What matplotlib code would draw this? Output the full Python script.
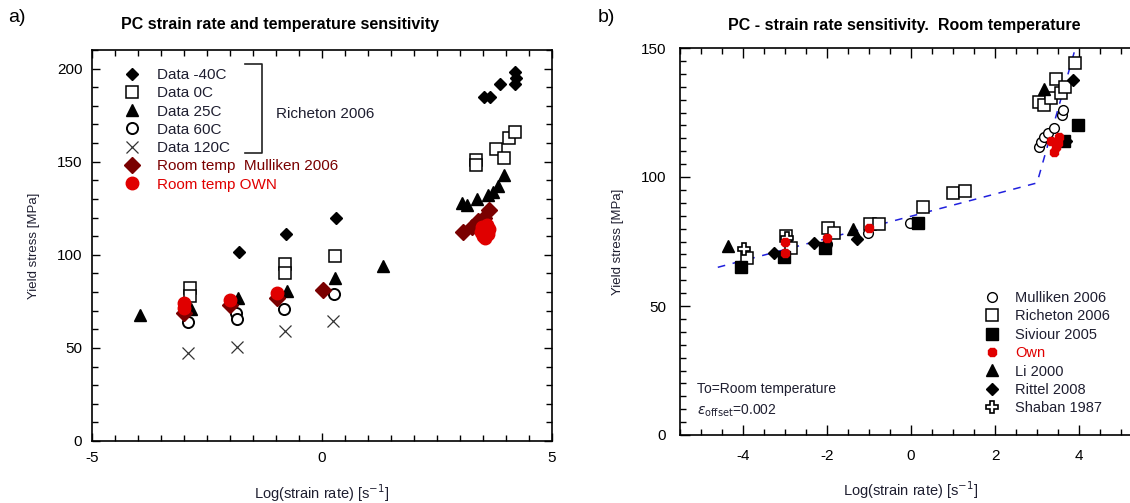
import matplotlib
matplotlib.use("Agg")
import matplotlib.pyplot as plt
from matplotlib.lines import Line2D
from matplotlib.ticker import MultipleLocator

plt.rcParams['font.family'] = ['Liberation Sans', 'DejaVu Sans']
plt.rcParams['axes.unicode_minus'] = False

# ---- panel a) Richeton 2006 + room temp data ----
m40_x = [-1.8, -0.78, 0.3, 3.53, 3.65, 3.88, 4.2, 4.22, 4.2]
m40_y = [101.6, 111, 120, 185, 185, 192, 198, 195, 191.5]
c0_x = [-2.87, -2.87, -0.8, -0.8, 0.28, 3.35, 3.35, 3.79, 3.96, 4.07, 4.19]
c0_y = [82, 78, 95, 90, 99.5, 151, 148.5, 157, 152, 163, 166]
c25_x = [-3.96, -2.85, -1.83, -0.76, 0.28, 1.33, 3.04, 3.15, 3.37, 3.6, 3.72, 3.82, 3.96]
c25_y = [67.6, 71, 77, 80.5, 87.5, 94, 128, 127, 130, 132, 134, 137, 143]
c60_x = [-2.91, -1.87, -1.85, -0.83, 0.26]
c60_y = [64, 69, 65.5, 71, 79]
c120_x = [-2.91, -1.85, -0.8, 0.24]
c120_y = [47.5, 50.5, 59, 64.4]
mull_x = [-3.0, -2.0, -0.98, 0.02, 3.07, 3.25, 3.4, 3.52, 3.63]
mull_y = [69, 73, 77, 81, 112, 115, 118, 120, 124]
own_x = [-3.0, -3.0, -2.0, -0.98, 3.45, 3.5, 3.55, 3.6, 3.62, 3.58, 3.48]
own_y = [74, 71.5, 75.7, 79.5, 112, 110, 109, 111, 114, 116, 115]

# ---- panel b) room temperature ----
rm_x = [-3.0, -2.0, -1.03, -0.02, 3.05, 3.1, 3.17, 3.26, 3.41, 3.59, 3.61]
rm_y = [70, 74, 78.3, 82.3, 111.6, 113.6, 115.6, 117, 119, 124, 126]
rr_x = [-3.9, -2.98, -2.86, -1.98, -1.83, -0.98, -0.76, 0.29, 0.99, 1.29,
        3.05, 3.16, 3.33, 3.45, 3.57, 3.67, 3.9]
rr_y = [68.6, 77, 72.5, 80.2, 78.3, 81.8, 81.8, 88.3, 93.7, 94.7,
        129, 128, 130.6, 138, 132.5, 135, 144]
sv_x = [-4.05, -3.02, -2.05, 0.16, 3.65, 3.97]
sv_y = [65, 69, 72.5, 82.3, 114, 120]
ow_x = [-3.0, -3.0, -2.0, -1.0, 3.33, 3.45, 3.52, 3.4, 3.5]
ow_y = [70.5, 75, 76.5, 80.2, 114, 111.6, 115.5, 109.7, 113]
li_x = [-4.36, -1.39, 3.17]
li_y = [73.3, 79.7, 134]
rt_x = [-3.26, -2.31, -1.29, 3.69, 3.86]
rt_y = [70.6, 74.5, 76, 114, 137.6]
sh_x = [-3.97, -2.95]
sh_y = [72, 76.4]
fit_x = [-4.6, 3.0, 3.95]
fit_y = [65.0, 97.7, 152]

txtc = '#1e1e30'
dred = '#7a0000'
red = '#e00000'

fig = plt.figure(figsize=(11.3, 5.03), dpi=100)

# ================= a) =================
ax1 = fig.add_axes([92/1130, 1-441/503, 460/1130, 391/503])
ax1.plot(c120_x, c120_y, 'x', color='#333333', ms=9, mew=0.9, ls='none')
ax1.plot(c60_x, c60_y, 'o', mfc='white', mec='black', ms=8, mew=1.4, ls='none')
ax1.plot(c0_x, c0_y, 's', mfc='white', mec='black', ms=9, mew=1.1, ls='none')
ax1.plot(c25_x, c25_y, '^', color='black', ms=9, ls='none')
ax1.plot(m40_x, m40_y, 'D', color='black', ms=6.5, ls='none')
ax1.plot(mull_x, mull_y, 'D', color=dred, ms=8, ls='none')
ax1.plot(own_x, own_y, 'o', color=red, ms=9, ls='none')

ax1.set_xlim(-5, 5)
ax1.set_ylim(0, 210)
ax1.xaxis.set_major_locator(MultipleLocator(5))
ax1.xaxis.set_minor_locator(MultipleLocator(0.5))
ax1.yaxis.set_major_locator(MultipleLocator(50))
ax1.yaxis.set_minor_locator(MultipleLocator(10))
ax1.tick_params(which='both', direction='in', top=True, right=True, labelsize=11, pad=7)
ax1.tick_params(which='major', length=6, width=1)
ax1.tick_params(which='minor', length=4, width=1)
for s in ax1.spines.values():
    s.set_linewidth(1.2)
ax1.set_xlabel('Log(strain rate) [s$^{-1}$]', fontsize=10.5, color=txtc, labelpad=13)
ax1.set_ylabel('Yield stress [MPa]', fontsize=9.5, color=txtc, labelpad=12)
ax1.text(0.409, 1.064, 'PC strain rate and temperature sensitivity', transform=ax1.transAxes,
         ha='center', va='center', fontsize=11.5, fontweight='bold')

h1 = [Line2D([], [], marker='D', color='black', ms=6.5, ls='none'),
      Line2D([], [], marker='s', mfc='white', mec='black', ms=9, mew=1.1, ls='none'),
      Line2D([], [], marker='^', color='black', ms=9, ls='none'),
      Line2D([], [], marker='o', mfc='white', mec='black', ms=8, mew=1.4, ls='none'),
      Line2D([], [], marker='x', color='#333333', ms=9, mew=0.9, ls='none'),
      Line2D([], [], marker='D', color=dred, ms=8, ls='none'),
      Line2D([], [], marker='o', color=red, ms=9, ls='none')]
l1 = ['Data -40C', 'Data 0C', 'Data 25C', 'Data 60C', 'Data 120C',
      'Room temp  Mulliken 2006', 'Room temp OWN']
leg1 = ax1.legend(h1, l1, loc='upper left', bbox_to_anchor=(0.067, 0.954), frameon=False,
                  fontsize=11, handlelength=1.2, handletextpad=1.05, labelspacing=0.28,
                  borderpad=0, borderaxespad=0)
for t, c in zip(leg1.get_texts(), [txtc]*5 + [dred, red]):
    t.set_color(c)
# bracket around the Richeton entries
ax1.plot([(245-92)/460, (262-92)/460, (262-92)/460, (245-92)/460],
         [(441-64)/391, (441-64)/391, (441-153)/391, (441-153)/391],
         color='#222222', lw=1.2, transform=ax1.transAxes)
ax1.text(0.40, 0.837, 'Richeton 2006', transform=ax1.transAxes, fontsize=11,
         color=txtc, va='center')

# ================= b) =================
ax2 = fig.add_axes([680/1130, 1-435/503, 462/1130, 387/503])
ax2.plot(fit_x, fit_y, color='#2020dd', lw=1.1, dashes=(5, 5))
ax2.plot(rr_x, rr_y, 's', mfc='white', mec='black', ms=9, mew=1.1, ls='none')
ax2.plot(rm_x, rm_y, 'o', mfc='white', mec='black', ms=7, mew=1.0, ls='none')
ax2.plot(sv_x, sv_y, 's', color='black', ms=8, ls='none')
ax2.plot(li_x, li_y, '^', color='black', ms=8, ls='none')
ax2.plot(rt_x, rt_y, 'D', color='black', ms=6.5, ls='none')
ax2.plot(sh_x, sh_y, 'P', mfc='white', mec='black', ms=8, mew=1.2, ls='none')
ax2.plot(ow_x, ow_y, '8', color=red, ms=7, ls='none')

ax2.set_xlim(-5.5, 5.5)
ax2.set_ylim(0, 150)
ax2.xaxis.set_major_locator(MultipleLocator(2))
ax2.xaxis.set_minor_locator(MultipleLocator(0.5))
ax2.yaxis.set_major_locator(MultipleLocator(50))
ax2.yaxis.set_minor_locator(MultipleLocator(5))
ax2.tick_params(which='both', direction='in', top=True, right=True, labelsize=11)
ax2.tick_params(axis='x', pad=10)
ax2.tick_params(axis='y', pad=10)
ax2.tick_params(which='major', length=7, width=1)
ax2.tick_params(which='minor', length=4, width=1)
for s in ax2.spines.values():
    s.set_linewidth(1.2)
ax2.set_xlabel('Log(strain rate) [s$^{-1}$]', fontsize=10.5, color=txtc, labelpad=12)
ax2.set_ylabel('Yield stress [MPa]', fontsize=9.5, color=txtc, labelpad=12)
ax2.text(0.485, 1.059, 'PC - strain rate sensitivity.  Room temperature', transform=ax2.transAxes,
         ha='center', va='center', fontsize=11.5, fontweight='bold')

h2 = [Line2D([], [], marker='o', mfc='white', mec='black', ms=7, mew=1.0, ls='none'),
      Line2D([], [], marker='s', mfc='white', mec='black', ms=9, mew=1.1, ls='none'),
      Line2D([], [], marker='s', color='black', ms=8, ls='none'),
      Line2D([], [], marker='8', color=red, ms=7, ls='none'),
      Line2D([], [], marker='^', color='black', ms=8, ls='none'),
      Line2D([], [], marker='D', color='black', ms=6.5, ls='none'),
      Line2D([], [], marker='P', mfc='white', mec='black', ms=8, mew=1.2, ls='none')]
l2 = ['Mulliken 2006', 'Richeton 2006', 'Siviour 2005', 'Own', 'Li 2000',
      'Rittel 2008', 'Shaban 1987']
leg2 = ax2.legend(h2, l2, loc='upper left', bbox_to_anchor=(0.656, 0.372), frameon=False,
                  fontsize=10.5, handlelength=1.2, handletextpad=1.0, labelspacing=0.3,
                  borderpad=0, borderaxespad=0)
for t, c in zip(leg2.get_texts(), [txtc]*3 + [red] + [txtc]*3):
    t.set_color(c)

ax2.text(0.037, 0.119, 'To=Room temperature', transform=ax2.transAxes, fontsize=10,
         color=txtc, va='center')
ax2.text(0.037, 0.062, r'$\varepsilon_{\mathrm{offset}}$=0.002', transform=ax2.transAxes,
         fontsize=10, color=txtc, va='center')

fig.text(8/1130, 1-18/503, 'a)', fontsize=14, va='center')
fig.text(598/1130, 1-18/503, 'b)', fontsize=14, va='center')

fig.savefig('out.png', dpi=100)
